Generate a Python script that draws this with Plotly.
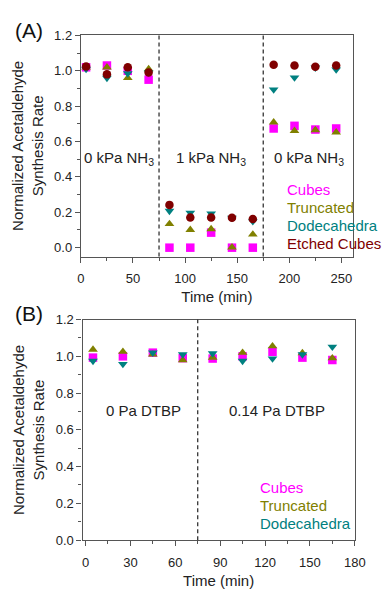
import plotly.graph_objects as go

W, H = 385, 592

# ---------- Panel A data ----------
time_a = [5, 25, 45, 65, 85, 105, 125, 145, 165, 185, 205, 225, 245]
cubes_a = [1.02, 1.03, 1.00, 0.95, 0.00, 0.00, 0.085, 0.00, 0.00, 0.674, 0.689, 0.668, 0.674]
trunc_a = [1.02, 1.02, 0.96, 1.01, 0.134, 0.101, 0.105, 0.002, 0.075, 0.709, 0.661, 0.665, 0.652]
dodec_a = [1.01, 0.96, 0.985, 0.99, 0.208, 0.197, 0.193, 0.168, 0.149, 0.894, 0.962, 1.018, 1.007]
etched_a = [1.025, 0.98, 1.02, 0.99, 0.242, 0.171, 0.171, 0.169, 0.162, 1.034, 1.03, 1.023, 1.03]

# ---------- Panel B data ----------
time_b = [5, 25, 45, 65, 85, 105, 125, 145, 165]
cubes_b = [0.993, 1.00, 1.02, 0.99, 0.988, 1.00, 1.025, 0.993, 0.98]
trunc_b = [1.037, 1.025, 1.01, 0.98, 0.993, 1.02, 1.055, 1.018, 0.99]
dodec_b = [0.975, 0.958, 1.02, 1.01, 1.016, 0.975, 0.988, 1.01, 1.052]

series_names = ["Cubes", "Truncated", "Dodecahedra", "Etched Cubes"]
colors = ["#FF00FF", "#808000", "#008080", "#800000"]
symbols = ["square", "triangle-up", "triangle-down", "circle"]

switch_a = [75, 175]
switch_b = [75]
regions_a = [(37, "0 kPa NH<sub>3</sub>"), (125, "1 kPa NH<sub>3</sub>"), (219, "0 kPa NH<sub>3</sub>")]
regions_b = [(39, "0 Pa DTBP"), (128, "0.14 Pa DTBP")]

FONT = "Arial, Liberation Sans, sans-serif"
AX = "#555555"
TXT = "#222222"

fig = go.Figure()

def add_series(xs, ys_list, xa, ya, n):
    for i in range(n):
        fig.add_trace(go.Scatter(
            x=xs, y=ys_list[i], mode="markers", xaxis=xa, yaxis=ya,
            marker=dict(symbol=symbols[i], color=colors[i], size=8.5, line=dict(width=0)),
            showlegend=False, name=series_names[i], cliponaxis=False))

add_series(time_a, [cubes_a, trunc_a, dodec_a, etched_a], "x", "y", 4)
add_series(time_b, [cubes_b, trunc_b, dodec_b], "x2", "y2", 3)

def px_x(p):
    return p / W

def px_y(p):
    return 1 - p / H

common_axis = dict(
    showline=True, linecolor=AX, linewidth=1.3, mirror=True,
    ticks="outside", ticklen=5, tickwidth=1.2, tickcolor=AX,
    showgrid=False, zeroline=False,
    tickfont=dict(family=FONT, size=13, color=TXT),
)
minor_common = dict(ticks="outside", ticklen=3, tickcolor=AX, tickwidth=1)

fig.update_layout(
    width=W, height=H, margin=dict(l=0, r=0, t=0, b=0),
    paper_bgcolor="white", plot_bgcolor="white",
    font=dict(family=FONT, size=13, color=TXT),
    xaxis=dict(domain=[px_x(80), px_x(363)], anchor="y", range=[0, 261],
               tickvals=[0, 50, 100, 150, 200, 250], ticklabelstandoff=5,
               minor=dict(tickvals=[25, 75, 125, 175, 225], **minor_common),
               title=dict(text="Time (min)", font=dict(family=FONT, size=15, color=TXT), standoff=6),
               **common_axis),
    yaxis=dict(domain=[px_y(256), px_y(29.2)], anchor="x", range=[-0.05, 1.2],
               tickvals=[0, 0.2, 0.4, 0.6, 0.8, 1.0, 1.2], tickformat=".1f",
               minor=dict(tickvals=[0.1, 0.3, 0.5, 0.7, 0.9, 1.1], **minor_common),
               **common_axis),
    xaxis2=dict(domain=[px_x(81.7), px_x(365)], anchor="y2", range=[-2, 180],
                tickvals=[0, 30, 60, 90, 120, 150, 180], ticklabelstandoff=5,
                minor=dict(tickvals=[15, 45, 75, 105, 135, 165], **minor_common),
                title=dict(text="Time (min)", font=dict(family=FONT, size=15, color=TXT), standoff=6),
                **common_axis),
    yaxis2=dict(domain=[px_y(547), px_y(320.7)], anchor="x2", range=[0, 1.2],
                tickvals=[0, 0.2, 0.4, 0.6, 0.8, 1.0, 1.2], tickformat=".1f",
                minor=dict(tickvals=[0.1, 0.3, 0.5, 0.7, 0.9, 1.1], **minor_common),
                **common_axis),
)

shapes = []
for xv in switch_a:
    shapes.append(dict(type="line", xref="x", yref="y domain", x0=xv, x1=xv, y0=0, y1=1,
                       line=dict(color="#333", width=1.3, dash="4px,3px")))
for xv in switch_b:
    shapes.append(dict(type="line", xref="x2", yref="y2 domain", x0=xv, x1=xv, y0=0, y1=1,
                       line=dict(color="#333", width=1.3, dash="4px,3px")))
fig.update_layout(shapes=shapes)

ann = []
for xv, t in regions_a:
    ann.append(dict(x=xv, y=0.507, xref="x", yref="y", text=t, showarrow=False,
                    font=dict(family=FONT, size=15, color=TXT)))
for xv, t in regions_b:
    ann.append(dict(x=xv, y=0.708, xref="x2", yref="y2", text=t, showarrow=False,
                    font=dict(family=FONT, size=15, color=TXT)))

# legend texts
leg_a_y = [0.327, 0.226, 0.125, 0.022]
for i in range(4):
    ann.append(dict(x=196, y=leg_a_y[i], xref="x", yref="y", text=series_names[i], showarrow=False,
                    xanchor="left", font=dict(family=FONT, size=15, color=colors[i])))
leg_b_y = [0.287, 0.191, 0.092]
for i in range(3):
    ann.append(dict(x=115.5, y=leg_b_y[i], xref="x2", yref="y2", text=series_names[i], showarrow=False,
                    xanchor="left", font=dict(family=FONT, size=15, color=colors[i])))

# panel labels
ann.append(dict(x=px_x(9), y=px_y(24), xref="paper", yref="paper", text="(A)", showarrow=False,
                xanchor="left", yanchor="middle", font=dict(family=FONT, size=21, color="#111")))
ann.append(dict(x=px_x(9), y=px_y(314), xref="paper", yref="paper", text="(B)", showarrow=False,
                xanchor="left", yanchor="middle", font=dict(family=FONT, size=21, color="#111")))

# y titles
ytitle = "Normalized Acetaldehyde<br>Synthesis Rate"
ann.append(dict(x=px_x(25), y=px_y(142.5), xref="paper", yref="paper", text=ytitle, showarrow=False,
                textangle=-90, xanchor="center", yanchor="middle",
                font=dict(family=FONT, size=15, color=TXT)))
ann.append(dict(x=px_x(25), y=px_y(434), xref="paper", yref="paper", text=ytitle, showarrow=False,
                textangle=-90, xanchor="center", yanchor="middle",
                font=dict(family=FONT, size=15, color=TXT)))

fig.update_layout(annotations=ann)

fig.write_html("out.html")
